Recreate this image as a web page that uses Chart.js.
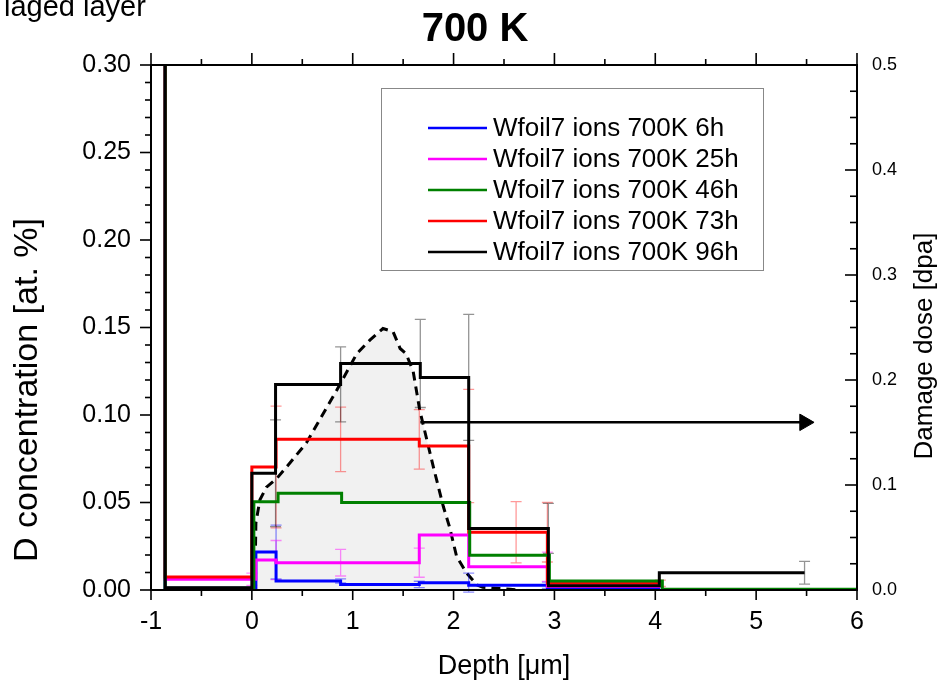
<!DOCTYPE html>
<html>
<head>
<meta charset="utf-8">
<script src="https://cdn.jsdelivr.net/npm/chart.js@4.4.1/dist/chart.umd.min.js"></script>
<style>
  html, body { margin: 0; padding: 0; background: #fff; }
  #wrap { width: 940px; height: 684px; position: relative; }
</style>
</head>
<body>
<div id="wrap"><canvas id="depthChart"></canvas></div>
<script>
// D depth profiles in W foil 7 exposed at 700 K, with SRIM damage profile

const seriesLabels = ['Wfoil7 ions 700K 6h', 'Wfoil7 ions 700K 25h', 'Wfoil7 ions 700K 46h', 'Wfoil7 ions 700K 73h', 'Wfoil7 ions 700K 96h'];
const seriesColors = ['#0000ff', '#ff00ff', '#008000', '#ff0000', '#000000'];
const errColors = ['rgba(0,0,255,0.45)', 'rgba(255,0,255,0.45)', 'rgba(0,128,0,0.45)', 'rgba(255,0,0,0.4)', 'rgba(0,0,0,0.42)'];

// right end of each step [um] and concentration of that step [at.%]
const depth6h  = [-0.86, 0.04, 0.24, 0.88, 1.66, 2.15, 2.93, 4.05];
const conc6h   = [0.35, 0.0010, 0.0217, 0.0052, 0.0032, 0.0042, 0.0027, 0.0013];
const depth25h = [-0.86, 0.04, 0.24, 0.88, 1.66, 2.15, 2.93, 4.05];
const conc25h  = [0.35, 0.0061, 0.0171, 0.0156, 0.0156, 0.0314, 0.0133, 0.0020];
const depth46h = [-0.86, 0.02, 0.26, 0.89, 1.66, 2.16, 2.95, 4.07, 6.0];
const conc46h  = [0.35, 0.0010, 0.0505, 0.0553, 0.0500, 0.0500, 0.0198, 0.0051, 0.0004];
const depth73h = [-0.86, 0.0, 0.24, 0.88, 1.66, 2.15, 2.93, 4.05];
const conc73h  = [0.35, 0.0075, 0.0703, 0.0861, 0.0861, 0.0823, 0.0330, 0.0038];
const depth96h = [-0.86, 0.0, 0.235, 0.88, 1.67, 2.15, 2.94, 4.04, 5.48];
const conc96h  = [0.35, 0.0013, 0.0667, 0.1175, 0.1295, 0.1215, 0.0352, 0.0025, 0.0099];

// error bars: [depth, conc, +/-]
const err6h  = [[0.24, 0.0217, 0.0154], [0.88, 0.0052, 0.0012], [1.66, 0.0032, 0.0018], [2.15, 0.0042, 0.0054], [2.93, 0.0027, 0.0018]];
const err25h = [[0.0, 0.0061, 0.0035], [0.24, 0.0171, 0.0112], [0.88, 0.0156, 0.0076], [1.66, 0.0156, 0.0083], [2.93, 0.0133, 0.0084]];
const err46h = [];
const err73h = [[0.24, 0.0703, 0.0348], [0.88, 0.0861, 0.0184], [1.66, 0.0861, 0.0170], [2.15, 0.0823, 0.0324], [2.62, 0.0330, 0.0175], [2.93, 0.0330, 0.0170], [4.05, 0.0038, 0.0018]];
const err96h = [[0.235, 0.0667, 0.0305], [0.88, 0.1175, 0.0214], [1.67, 0.1295, 0.0252], [2.15, 0.1215, 0.0360], [2.94, 0.0352, 0.0143], [5.48, 0.0099, 0.0065]];

// damage profile [dpa], right axis
const damageDepth = [0, 0.03, 0.04, 0.08, 0.145, 0.245, 0.377, 0.54, 0.84, 1.04, 1.17, 1.30, 1.40, 1.47, 1.53, 1.60, 1.665, 1.80, 1.90, 1.96, 2.03, 2.13, 2.23, 2.29, 2.56, 2.65];
const damageDpa   = [0, 0.007, 0.064, 0.086, 0.098, 0.106, 0.121, 0.140, 0.190, 0.225, 0.238, 0.249, 0.246, 0.230, 0.225, 0.208, 0.171, 0.117, 0.079, 0.060, 0.032, 0.016, 0.005, 0.0026, 0.0007, 0];

// arrow pointing to the damage axis
const arrowDepth = [1.67, 5.48];
const arrowConc  = [0.0958, 0.0958];

const xTicks  = [-1, 0, 1, 2, 3, 4, 5, 6];
const yTicks  = [0, 0.05, 0.10, 0.15, 0.20, 0.25, 0.30];
const y2Ticks = [0, 0.1, 0.2, 0.3, 0.4, 0.5];

const FONT = "'Liberation Sans', Arial, sans-serif";

const zip = (xs, ys) => xs.map((x, i) => ({ x, y: ys[i] }));
const stepData = [zip(depth6h, conc6h), zip(depth25h, conc25h), zip(depth46h, conc46h), zip(depth73h, conc73h), zip(depth96h, conc96h)];
const errData = [err6h, err25h, err46h, err73h, err96h];
const drawOrder = [5, 4, 2, 3, 1];

const datasets = stepData.map((data, i) => ({
  label: seriesLabels[i],
  data,
  borderColor: seriesColors[i],
  borderWidth: 3,
  stepped: 'after',
  pointRadius: 0,
  fill: false,
  order: drawOrder[i],
  yAxisID: 'y',
}));

datasets.push({
  label: 'arrow',
  data: zip(arrowDepth, arrowConc),
  borderColor: '#000',
  backgroundColor: '#000',
  borderWidth: 2.5,
  pointStyle: 'triangle',
  pointRotation: 90,
  pointRadius: [0, 9.5],
  pointBorderWidth: 1,
  order: 0,
  yAxisID: 'y',
});

datasets.push({
  label: 'damage',
  data: zip(damageDepth, damageDpa),
  borderColor: '#000',
  borderWidth: 3,
  borderDash: [9, 6],
  backgroundColor: '#f1f1f1',
  fill: 'origin',
  pointRadius: 0,
  tension: 0,
  order: 20,
  yAxisID: 'y2',
});
const DAMAGE_INDEX = datasets.length - 1;

// error bars sit above the grey fill but under the step lines
const errorBars = {
  id: 'errorBars',
  afterDatasetDraw(chart, args) {
    if (args.index !== DAMAGE_INDEX) return;
    const { ctx, scales: { x, y } } = chart;
    ctx.save();
    ctx.lineWidth = 1.3;
    errData.forEach((list, i) => {
      ctx.strokeStyle = errColors[i];
      list.forEach(([d, c, e]) => {
        const px = x.getPixelForValue(d);
        const top = y.getPixelForValue(c + e);
        const bot = y.getPixelForValue(c - e);
        ctx.beginPath();
        ctx.moveTo(px, top); ctx.lineTo(px, bot);
        ctx.moveTo(px - 5.5, top); ctx.lineTo(px + 5.5, top);
        ctx.moveTo(px - 5.5, bot); ctx.lineTo(px + 5.5, bot);
        ctx.stroke();
      });
    });
    ctx.restore();
  },
};

// frame with Origin-style major/minor ticks
const frameTicks = {
  id: 'frameTicks',
  afterDraw(chart) {
    const { ctx, chartArea: a, scales: { x, y, y2 } } = chart;
    ctx.save();
    ctx.strokeStyle = '#000';
    ctx.lineWidth = 1.6;
    const seg = (x1, y1, x2, y2_) => { ctx.beginPath(); ctx.moveTo(x1, y1); ctx.lineTo(x2, y2_); ctx.stroke(); };

    xTicks.forEach((v, i) => {
      const px = x.getPixelForValue(v);
      seg(px, a.bottom, px, a.bottom + 10);
      seg(px, a.top, px, a.top - 12);
      if (i < xTicks.length - 1) {
        const mx = x.getPixelForValue((v + xTicks[i + 1]) / 2);
        seg(mx, a.bottom, mx, a.bottom + 6);
        seg(mx, a.top, mx, a.top - 6);
      }
    });
    yTicks.forEach((v, i) => {
      const py = y.getPixelForValue(v);
      seg(a.left, py, a.left - 11, py);
      if (i < yTicks.length - 1) {
        const step = (yTicks[i + 1] - v) / 5;
        for (let k = 1; k < 5; k++) {
          const my = y.getPixelForValue(v + step * k);
          seg(a.left, my, a.left - 6, my);
        }
      }
    });
    y2Ticks.forEach((v, i) => {
      const py = y2.getPixelForValue(v);
      seg(a.right, py, a.right - 12, py);
      if (i < y2Ticks.length - 1) {
        const step = (y2Ticks[i + 1] - v) / 4;
        for (let k = 1; k < 4; k++) {
          const my = y2.getPixelForValue(v + step * k);
          seg(a.right, my, a.right - 7, my);
        }
      }
    });

    ctx.lineWidth = 2;
    ctx.strokeRect(a.left, a.top, a.right - a.left, a.bottom - a.top);
    ctx.restore();
  },
};

// titles, axis titles and the boxed legend
const annotations = {
  id: 'annotations',
  afterDraw(chart) {
    const { ctx } = chart;
    ctx.save();
    ctx.fillStyle = '#000';

    ctx.font = `29px ${FONT}`;
    ctx.textAlign = 'left';
    ctx.textBaseline = 'alphabetic';
    ctx.fillText('laged layer', 4, 16);

    ctx.font = `bold 40px ${FONT}`;
    ctx.textAlign = 'center';
    ctx.textBaseline = 'middle';
    ctx.fillText('700 K', 475, 30);

    ctx.font = `34px ${FONT}`;
    ctx.save();
    ctx.translate(28, 390);
    ctx.rotate(-Math.PI / 2);
    ctx.fillText('D concentration [at. %]', 0, 0);
    ctx.restore();

    ctx.font = `26px ${FONT}`;
    ctx.save();
    ctx.translate(925, 346);
    ctx.rotate(-Math.PI / 2);
    ctx.fillText('Damage dose [dpa]', 0, 0);
    ctx.restore();

    // legend
    const bx = 381, by = 88, bw = 382, bh = 182;
    ctx.fillStyle = '#fff';
    ctx.fillRect(bx, by, bw, bh);
    ctx.strokeStyle = '#888';
    ctx.lineWidth = 1;
    ctx.strokeRect(bx + 0.5, by + 0.5, bw, bh);
    ctx.font = `26px ${FONT}`;
    ctx.textAlign = 'left';
    ctx.textBaseline = 'middle';
    seriesLabels.forEach((label, i) => {
      const ly = 128 + i * 31;
      ctx.strokeStyle = seriesColors[i];
      ctx.lineWidth = 2.5;
      ctx.beginPath();
      ctx.moveTo(428, ly);
      ctx.lineTo(487, ly);
      ctx.stroke();
      ctx.fillStyle = '#000';
      ctx.fillText(label, 493, ly + 1);
    });
    ctx.restore();
  },
};

const tickFont = { family: FONT, size: 25 };

new Chart(document.getElementById('depthChart'), {
  type: 'line',
  data: { datasets },
  options: {
    responsive: true,
    maintainAspectRatio: false,
    animation: false,
    layout: { padding: { top: 65, left: 0, right: 0, bottom: 0 } },
    plugins: { legend: { display: false }, tooltip: { enabled: false }, title: { display: false } },
    scales: {
      x: {
        type: 'linear',
        min: -1, max: 6,
        afterBuildTicks: s => { s.ticks = xTicks.map(v => ({ value: v })); },
        afterFit: s => { s.height = 94; },
        grid: { display: false, drawTicks: false },
        border: { display: false },
        ticks: { font: tickFont, color: '#000', padding: 17, autoSkip: false, maxRotation: 0, callback: v => String(v) },
        title: { display: true, text: 'Depth [μm]', color: '#000', font: { family: FONT, size: 27 }, padding: { top: 0, bottom: 1 } },
      },
      y: {
        position: 'left',
        min: 0, max: 0.3,
        afterBuildTicks: s => { s.ticks = yTicks.map(v => ({ value: v })); },
        afterFit: s => { s.width = 151; },
        grid: { display: false, drawTicks: false },
        border: { display: false },
        ticks: { font: tickFont, color: '#000', padding: 20, callback: v => v.toFixed(2) },
      },
      y2: {
        position: 'right',
        min: 0, max: 0.5,
        afterBuildTicks: s => { s.ticks = y2Ticks.map(v => ({ value: v })); },
        afterFit: s => { s.width = 83; },
        grid: { display: false, drawTicks: false },
        border: { display: false },
        ticks: { font: { family: FONT, size: 18 }, color: '#000', padding: 15, callback: v => v.toFixed(1) },
      },
    },
  },
  plugins: [errorBars, frameTicks, annotations],
});
</script>
</body>
</html>
